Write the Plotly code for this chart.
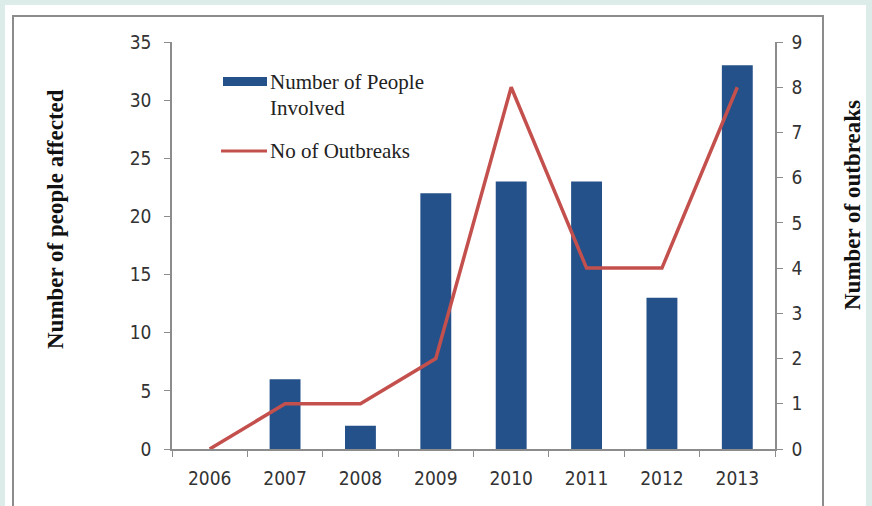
import plotly.graph_objects as go

years = ["2006", "2007", "2008", "2009", "2010", "2011", "2012", "2013"]
people = [0, 6, 2, 22, 23, 23, 13, 33]
outbreaks = [0, 1, 1, 2, 8, 4, 4, 8]

W, H = 872, 506
L, R, T, B = 172, 775, 42, 449
PW, PH = R - L, B - T

def px(x):
    return (x - L) / PW

def py(y):
    return (B - y) / PH

BAR = "#24518a"
LINE = "#c4504d"
AX = "#8c8c8c"
TICKFONT = dict(family="DejaVu Sans Condensed, DejaVu Sans", size=19, color="#333333")
SERIF = "Liberation Serif, Times New Roman, serif"

fig = go.Figure()
fig.add_trace(go.Bar(x=years, y=people, marker=dict(color=BAR, line=dict(width=0)),
                     name="Number of People Involved", yaxis="y"))
fig.add_trace(go.Scatter(x=years, y=outbreaks, mode="lines", line=dict(color=LINE, width=3.5),
                         name="No of Outbreaks", yaxis="y2"))

shapes = [
    dict(type="rect", xref="paper", yref="paper", x0=px(5), x1=px(866), y0=py(520), y1=py(5),
         fillcolor="white", line=dict(width=0), layer="below"),
    dict(type="path", xref="paper", yref="paper",
         path=f"M {px(13)} {py(520)} L {px(13)} {py(16)} L {px(823)} {py(16)} L {px(823)} {py(520)}",
         line=dict(color=AX, width=2), layer="below"),
    # legend symbols
    dict(type="rect", xref="paper", yref="paper", x0=px(223), x1=px(267), y0=py(86), y1=py(77),
         fillcolor=BAR, line=dict(width=0)),
    dict(type="line", xref="paper", yref="paper", x0=px(221), x1=px(267), y0=py(151), y1=py(151),
         line=dict(color=LINE, width=3)),
]

LEGFONT = dict(family=SERIF, size=21, color="#222222")
annotations = [
    dict(text="Number of People", x=px(268), y=py(82), xref="paper", yref="paper",
         xanchor="left", yanchor="middle", showarrow=False, font=LEGFONT),
    dict(text="Involved", x=px(268), y=py(108), xref="paper", yref="paper",
         xanchor="left", yanchor="middle", showarrow=False, font=LEGFONT),
    dict(text="No of Outbreaks", x=px(268), y=py(151), xref="paper", yref="paper",
         xanchor="left", yanchor="middle", showarrow=False, font=LEGFONT),
    dict(text="<b>Number of people affected</b>", x=px(55), y=py(219), xref="paper", yref="paper",
         xanchor="center", yanchor="middle", textangle=-90, showarrow=False,
         font=dict(family=SERIF, size=23, color="#111111")),
    dict(text="<b>Number of outbreaks</b>", x=px(852), y=py(205), xref="paper", yref="paper",
         xanchor="center", yanchor="middle", textangle=-90, showarrow=False,
         font=dict(family=SERIF, size=23, color="#111111")),
]

fig.update_layout(
    width=W, height=H,
    margin=dict(l=L, r=W - R, t=T, b=H - B),
    paper_bgcolor="#dcece8",
    plot_bgcolor="rgba(0,0,0,0)",
    showlegend=False,
    bargap=0.59,
    shapes=shapes,
    annotations=annotations,
    xaxis=dict(type="category", showgrid=False, showline=True, linecolor=AX, linewidth=1.5,
               ticks="outside", ticklen=6, tickcolor=AX, tickson="boundaries",
               tickfont=TICKFONT, ticklabelstandoff=11, zeroline=False),
    yaxis=dict(range=[0, 35], dtick=5, showgrid=False, showline=True, linecolor=AX, linewidth=1.5,
               ticks="outside", ticklen=6, tickcolor=AX, tickfont=TICKFONT,
               ticklabelstandoff=9, zeroline=False),
    yaxis2=dict(range=[0, 9], dtick=1, overlaying="y", side="right", showgrid=False,
                showline=True, linecolor=AX, linewidth=1.5, ticks="outside", ticklen=6,
                tickcolor=AX, tickfont=TICKFONT, ticklabelstandoff=5, zeroline=False),
)

fig.write_html("out.html")
